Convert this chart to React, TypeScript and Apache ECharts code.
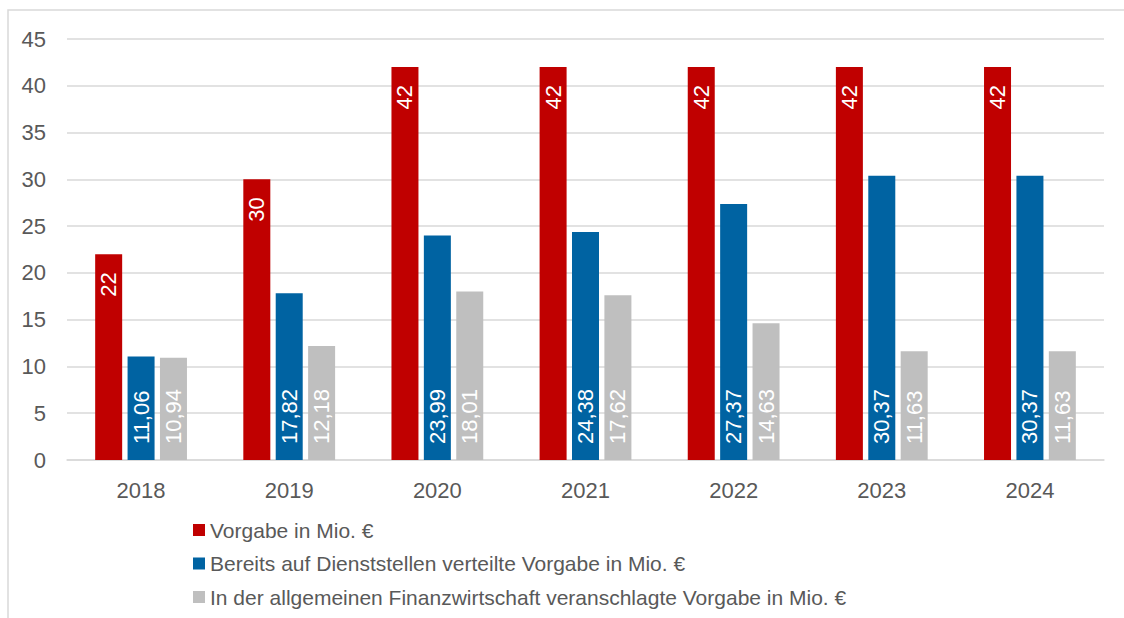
import React, { useEffect, useRef } from "react";
import * as echarts from "echarts";

const categories = ["2018", "2019", "2020", "2021", "2022", "2023", "2024"];
const seriesNames = [
  "Vorgabe in Mio. €",
  "Bereits auf Dienststellen verteilte Vorgabe in Mio. €",
  "In der allgemeinen Finanzwirtschaft veranschlagte Vorgabe in Mio. €",
];
const vorgabe = [22, 30, 42, 42, 42, 42, 42];
const verteilt = [11.06, 17.82, 23.99, 24.38, 27.37, 30.37, 30.37];
const veranschlagt = [10.94, 12.18, 18.01, 17.62, 14.63, 11.63, 11.63];
const colors = ["#C00000", "#0063A2", "#BFBFBF"];

const FONT = "'Liberation Sans', Arial, sans-serif";
const TEXT = "#595959";

const fmt = (p: any) => {
  const v = p.value as number;
  return Number.isInteger(v) ? String(v) : v.toFixed(2).replace(".", ",");
};

export default function App() {
  const ref = useRef<HTMLDivElement>(null);
  useEffect(() => {
    if (!ref.current) return;
    const chart = echarts.init(ref.current, undefined, { renderer: "svg" });
    const labelBase = {
      show: true,
      rotate: 90,
      color: "#FFFFFF",
      fontSize: 22,
      fontFamily: FONT,
      verticalAlign: "middle",
      formatter: fmt,
    };
    chart.setOption({
      animation: false,
      textStyle: { fontFamily: FONT },
      graphic: [
        {
          type: "rect",
          shape: { x: 8, y: 10, width: 1130, height: 620 },
          style: { fill: "none", stroke: "#D9D9D9", lineWidth: 1.5 },
          silent: true,
        },
      ],
      grid: { left: 67, right: 20, top: 39, bottom: 158, containLabel: false },
      legend: {
        orient: "vertical",
        left: 193,
        top: 519,
        padding: 0,
        itemWidth: 12,
        itemHeight: 12,
        itemGap: 11.5,
        icon: "rect",
        textStyle: { color: TEXT, fontSize: 21, lineHeight: 22, fontFamily: FONT },
        data: seriesNames,
      },
      xAxis: {
        type: "category",
        data: categories,
        axisLine: { lineStyle: { color: "#D9D9D9", width: 1.5 } },
        axisTick: { show: false },
        axisLabel: { color: TEXT, fontSize: 22, margin: 19, fontFamily: FONT },
      },
      yAxis: {
        type: "value",
        min: 0,
        max: 45,
        interval: 5,
        axisLine: { show: false },
        axisTick: { show: false },
        splitLine: { lineStyle: { color: "#D9D9D9", width: 1.5 } },
        axisLabel: { color: TEXT, fontSize: 22, margin: 21, fontFamily: FONT },
      },
      series: [
        {
          name: seriesNames[0],
          type: "bar",
          data: vorgabe,
          barWidth: 27,
          barGap: "20%",
          itemStyle: { color: colors[0] },
          label: { ...labelBase, position: "insideTop", distance: 18, align: "right" },
        },
        {
          name: seriesNames[1],
          type: "bar",
          data: verteilt,
          barWidth: 27,
          barGap: "20%",
          itemStyle: { color: colors[1] },
          label: { ...labelBase, position: "insideBottom", distance: 16, align: "left" },
        },
        {
          name: seriesNames[2],
          type: "bar",
          data: veranschlagt,
          barWidth: 27,
          barGap: "20%",
          itemStyle: { color: colors[2] },
          label: { ...labelBase, position: "insideBottom", distance: 16, align: "left" },
        },
      ],
    });
    return () => chart.dispose();
  }, []);
  return (
    <div
      ref={ref}
      style={{ position: "absolute", left: 0, top: 0, width: 1124, height: 618 }}
    />
  );
}
